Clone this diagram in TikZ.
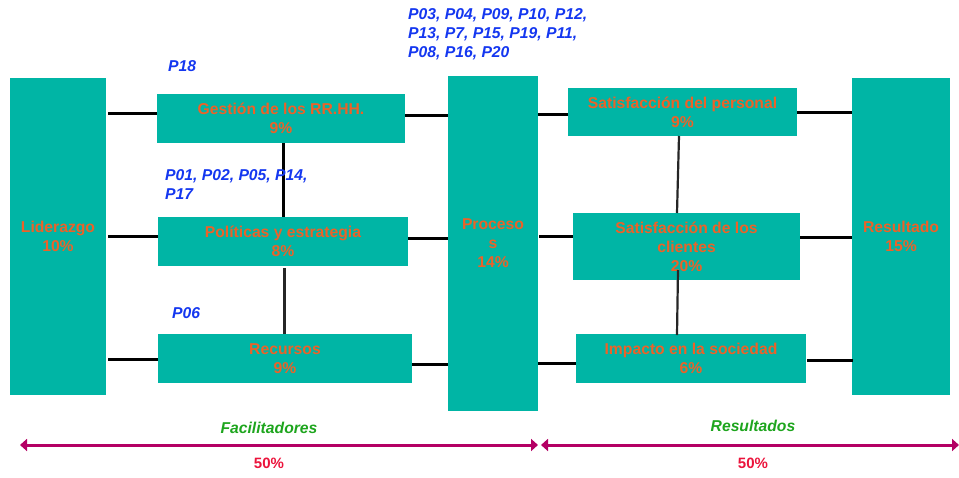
\documentclass[tikz,border=0pt]{standalone}
\usepackage{fontspec}
\setmainfont{Liberation Sans}
\usetikzlibrary{arrows.meta,calc}
\definecolor{teal1}{RGB}{0,181,165}
\definecolor{orng}{RGB}{236,98,40}
\definecolor{blu}{RGB}{20,55,240}
\definecolor{grn}{RGB}{30,165,30}
\definecolor{mag}{RGB}{180,0,100}
\definecolor{rd}{RGB}{235,20,60}
\tikzset{
  box/.style={fill=teal1, draw=none, inner sep=0pt, outer sep=0pt, align=center,
    text=orng, font=\fontsize{15.7}{19}\selectfont\bfseries},
  conn/.style={draw=black, line width=3pt},
  vconn/.style={draw=black!85, line width=2.2pt},
  plabel/.style={text=blu, inner sep=0pt, anchor=west, align=left,
    font=\fontsize{15.7}{19}\selectfont\bfseries\itshape},
  glabel/.style={text=grn, inner sep=0pt, font=\fontsize{15.7}{19}\selectfont\bfseries\itshape},
  rlabel/.style={text=rd, inner sep=0pt, font=\fontsize{15}{18}\selectfont\bfseries},
  span/.style={draw=mag, line width=3pt, {Triangle[width=12pt,length=7pt]}-{Triangle[width=12pt,length=7pt]}}
}
\begin{document}
\begin{tikzpicture}[x=1pt,y=-1pt]
\useasboundingbox (0,0) rectangle (959,477);
% big columns
\node[box, minimum width=96, minimum height=317] (lid) at (58,236.5) {Liderazgo\\10\%};
\node[box, minimum width=90, minimum height=335] (proc) at (493,243.5) {Proceso\\s\\14\%};
\node[box, minimum width=98, minimum height=317] (res) at (901,236.5) {Resultado\\15\%};
% left boxes
\node[box, minimum width=248, minimum height=49] (gest) at (281,118.5) {Gesti\'on de los RR.HH.\\9\%};
\node[box, minimum width=250, minimum height=49] (pol) at (283,241.5) {Pol\'iticas y estrategia\\8\%};
\node[box, minimum width=254, minimum height=49] (rec) at (285,358.5) {Recursos\\9\%};
% right boxes
\node[box, minimum width=229, minimum height=48] (satp) at (682.5,112) {Satisfacci\'on del personal\\9\%};
\node[box, minimum width=227, minimum height=67] (satc) at (686.5,246.5) {Satisfacci\'on de los\\clientes\\20\%};
\node[box, minimum width=230, minimum height=49] (imp) at (691,358.5) {Impacto en la sociedad\\6\%};
% horizontal connectors
\draw[conn] ([yshift=5.5]gest.west) -- ([yshift=5.5,xshift=2]gest.west -| lid.east);
\draw[conn] ([yshift=3.5]gest.east) -- ([yshift=3.5]gest.east -| proc.west);
\draw[conn] ([yshift=5.5]pol.west) -- ([yshift=5.5,xshift=2]pol.west -| lid.east);
\draw[conn] ([yshift=3.5]pol.east) -- ([yshift=3.5]pol.east -| proc.west);
\draw[conn] ([yshift=-0.5]rec.west) -- ([yshift=-0.5,xshift=2]rec.west -| lid.east);
\draw[conn] ([yshift=-5.5]rec.east) -- ([yshift=-5.5]rec.east -| proc.west);
\draw[conn] ([yshift=-2]satp.west) -- ([yshift=-2]satp.west -| proc.east);
\draw[conn] ([yshift=10.5]satc.west) -- ([yshift=10.5,xshift=1]satc.west -| proc.east);
\draw[conn] ([yshift=-4.5]imp.west) -- ([yshift=-4.5]imp.west -| proc.east);
\draw[conn] (satp.east) -- (satp.east -| res.west);
\draw[conn] ([yshift=9.5]satc.east) -- ([yshift=9.5]satc.east -| res.west);
\draw[conn] ([yshift=-1.5,xshift=1]imp.east) -- ([yshift=-1.5,xshift=1]imp.east -| res.west);
% vertical connectors
\draw[conn] ([xshift=2]gest.south) -- ([xshift=0]pol.north);
\draw[vconn] ([xshift=1.5,yshift=-2]pol.south) -- ([xshift=-0.5]rec.north);
\draw[vconn] ([xshift=-3.5]satp.south) -- ([xshift=-9.5]satc.north);
\draw[vconn] ([xshift=-8.5,yshift=10]satc.south) -- ([xshift=-14,yshift=-1]imp.north);
% process labels
\node[plabel] (l18) at (168,66) {P18};
\node[plabel] (l01) at (165,184.5) {P01, P02, P05, P14,\\P17};
\node[plabel] (l06) at (172,313) {P06};
\node[plabel] (l03) at (408,34.5) {P03, P04, P09, P10, P12,\\P13, P7, P15, P19, P11,\\P08, P16, P20};
% bottom spans
\coordinate (a1) at (20,445);
\coordinate (a2) at (538,445);
\coordinate (b1) at (541,445);
\coordinate (b2) at (959,445);
\draw[span] (a1) -- (a2);
\draw[span] (b1) -- (b2);
\node[glabel] (fac) at (269,428) {Facilitadores};
\node[glabel] (resl) at (753,426) {Resultados};
\node[rlabel] (p1) at (269,463) {50\%};
\node[rlabel] (p2) at (753,463) {50\%};
\end{tikzpicture}
\end{document}
